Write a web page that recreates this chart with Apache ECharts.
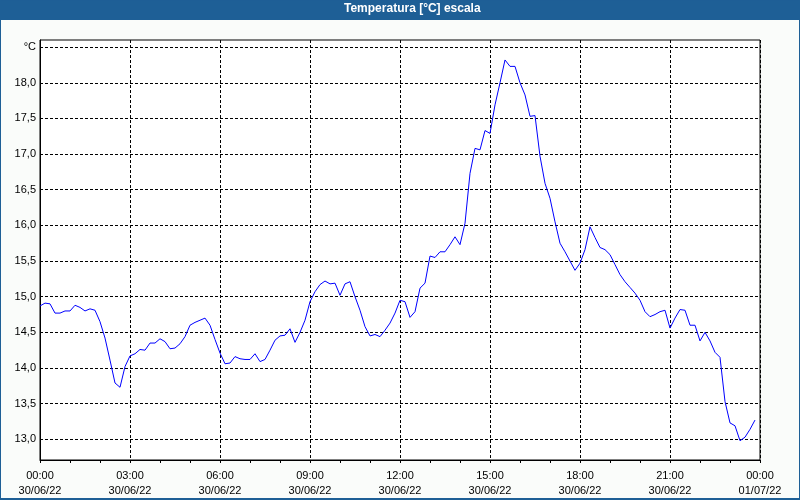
<!DOCTYPE html>
<html>
<head>
<meta charset="utf-8">
<script src="https://cdn.jsdelivr.net/npm/echarts@6/dist/echarts.min.js"></script>
<style>
html,body{margin:0;padding:0;background:#fafcfa;}
#c{width:800px;height:500px;}
</style>
</head>
<body>
<div id="c"></div>
<script>
const chartTitle = 'Temperatura [°C] escala';
const startTime = Date.UTC(2022, 5, 30, 0, 0);
const endTime = Date.UTC(2022, 6, 1, 0, 0);
const sampleMinutes = 10;
const temperature = [
  14.87, 14.91, 14.90, 14.77, 14.77, 14.80, 14.80, 14.88, 14.85, 14.80, 14.83, 14.81,
  14.65, 14.42, 14.11, 13.79, 13.73, 14.02, 14.17, 14.20, 14.26, 14.25, 14.35, 14.35,
  14.41, 14.37, 14.27, 14.28, 14.34, 14.44, 14.60, 14.64, 14.67, 14.70, 14.60, 14.40,
  14.21, 14.06, 14.07, 14.16, 14.13, 14.12, 14.12, 14.20, 14.09, 14.12, 14.25, 14.39,
  14.45, 14.46, 14.55, 14.36, 14.50, 14.67, 14.93, 15.07, 15.17, 15.22, 15.18, 15.19,
  15.02, 15.18, 15.21, 15.00, 14.81, 14.58, 14.45, 14.47, 14.44, 14.53, 14.63, 14.77,
  14.95, 14.93, 14.71, 14.79, 15.12, 15.19, 15.57, 15.55, 15.63, 15.63, 15.73, 15.84,
  15.73, 16.03, 16.73, 17.08, 17.06, 17.33, 17.29, 17.69, 18.00, 18.32, 18.23, 18.23,
  18.00, 17.83, 17.53, 17.54, 16.97, 16.59, 16.38, 16.05, 15.75, 15.63, 15.50, 15.37,
  15.47, 15.66, 15.98, 15.83, 15.69, 15.66, 15.59, 15.45, 15.31, 15.21, 15.13, 15.05,
  14.95, 14.79, 14.72, 14.75, 14.79, 14.81, 14.56, 14.70, 14.82, 14.81, 14.60, 14.60,
  14.38, 14.50, 14.38, 14.22, 14.15, 13.53, 13.23, 13.19, 12.98, 13.03, 13.14, 13.27
];
const yTickValues = [13.0, 13.5, 14.0, 14.5, 15.0, 15.5, 16.0, 16.5, 17.0, 17.5, 18.0, 18.5];
const yUnitLabel = '°C';
const yMin = 12.71;
const yMax = 18.6;

const seriesData = temperature.map((v, i) => [startTime + i * sampleMinutes * 60000, v]);
const pad = n => (n < 10 ? '0' : '') + n;
function fmtTime(ts) {
  const d = new Date(ts);
  return pad(d.getUTCHours()) + ':' + pad(d.getUTCMinutes()) + '\n' +
    pad(d.getUTCDate()) + '/' + pad(d.getUTCMonth() + 1) + '/' + String(d.getUTCFullYear()).slice(2);
}
const FONT = 'Liberation Sans';
const chart = echarts.init(document.getElementById('c'), null, {renderer: 'canvas'});
chart.setOption({
  backgroundColor: '#fafcfa',
  animation: false,
  graphic: [
    {type: 'rect', z: -1, shape: {x: 0, y: 0, width: 800, height: 20}, style: {fill: '#1e5f96'}},
    {type: 'rect', z: -1, shape: {x: 0.5, y: 0, width: 799, height: 499}, style: {fill: 'none', stroke: '#1e5f96', lineWidth: 1}},
    {type: 'rect', z: -1, shape: {x: 0, y: 498, width: 800, height: 2}, style: {fill: '#1e5f96'}},
    {type: 'text', z: 10, left: 344, top: 3, style: {text: chartTitle, fill: '#ffffff', font: 'bold 12px "' + FONT + '"'}}
  ],
  grid: {left: 40, right: 40, top: 40, bottom: 40, show: true, backgroundColor: '#ffffff', borderColor: '#000000', borderWidth: 1},
  xAxis: {
    type: 'value',
    min: startTime,
    max: endTime,
    interval: 3 * 3600000,
    axisLine: {show: true, lineStyle: {color: '#000', width: 1}},
    axisTick: {show: true, length: 3, lineStyle: {color: '#000'}},
    minorTick: {show: true, splitNumber: 3, length: 3, lineStyle: {color: '#000'}},
    splitLine: {show: true, lineStyle: {color: '#000', type: [3, 2], width: 1}},
    axisLabel: {
      color: '#000', fontFamily: FONT, fontSize: 11, lineHeight: 15, margin: 8,
      showMinLabel: true, showMaxLabel: true,
      formatter: v => fmtTime(v)
    }
  },
  yAxis: {
    type: 'value',
    min: yMin,
    max: yMax,
    axisLine: {show: true, lineStyle: {color: '#000'}},
    axisTick: {show: false, customValues: yTickValues},
    splitLine: {show: true, lineStyle: {color: '#000', type: [3, 2], width: 1}},
    axisLabel: {
      customValues: yTickValues,
      color: '#000', fontFamily: FONT, fontSize: 11, margin: 4,
      formatter: v => (Math.abs(v - 18.5) < 1e-6 ? yUnitLabel : v.toFixed(1).replace('.', ','))
    }
  },
  series: [{
    type: 'line',
    data: seriesData,
    showSymbol: false,
    symbol: 'none',
    lineStyle: {color: '#0000ff', width: 1},
    itemStyle: {color: '#0000ff'},
    clip: true
  }]
});
</script>
</body>
</html>
